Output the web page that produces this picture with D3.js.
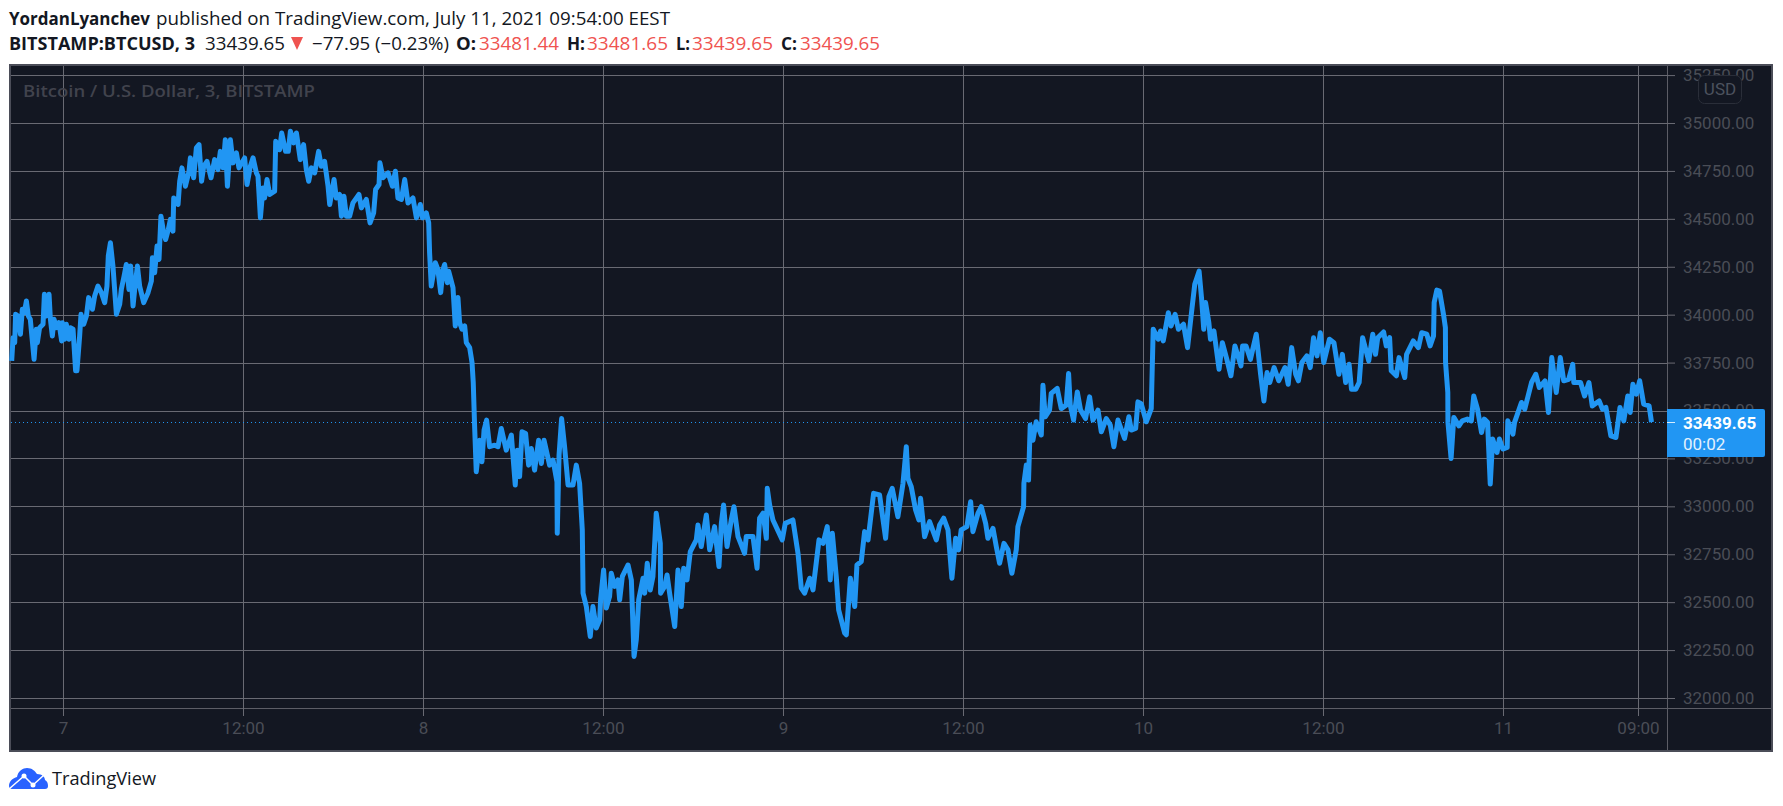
<!DOCTYPE html>
<html>
<head>
<meta charset="utf-8">
<script src="https://d3js.org/d3.v7.min.js"></script>
<style>
  body { margin: 0; background: #fff; }
  svg { display: block; }
  text { font-family: "Open Sans", "Noto Sans", sans-serif; }
  .axis text { font-family: Roboto, sans-serif; font-size: 17px; fill: #4a4d56; }
  .axis path { display: none; }
  .axis line { stroke: #696a73; }
</style>
</head>
<body>
<svg id="chart" width="1783" height="806"></svg>
<script>
// hours since Jul 7 00:00
var hours = [
  -3.42,-3.33,-3.22,-3.16,-3.0,-2.84,-2.71,-2.58,-2.44,-2.31,-2.18,-1.93,-1.78,-1.71,-1.56,-1.33,-1.24,-1.11,-0.93,-0.84,-0.71,-0.6,-0.44,-0.27,-0.09,-0.04,
  0.11,0.22,0.4,0.49,0.67,0.84,0.93,1.11,1.2,1.38,1.56,1.71,1.96,2.11,2.33,2.56,2.78,2.93,3.02,3.16,3.33,3.56,3.78,3.89,4.07,4.22,4.4,4.51,4.67,4.78,4.96,5.11,5.38,5.67,5.89,5.96,
  6.11,6.27,6.4,6.53,6.71,6.84,7.02,7.16,7.33,7.38,7.67,7.78,7.93,8.16,8.4,8.49,8.71,8.89,9.07,9.24,9.38,9.6,9.87,10.11,10.33,10.49,10.67,10.82,10.96,11.16,11.33,11.56,11.73,
  12.11,12.27,12.49,12.67,12.89,13.0,13.16,13.33,13.44,13.6,13.78,14.11,14.18,14.44,14.58,14.84,15.02,15.16,15.38,15.56,15.82,16.04,16.22,16.38,16.56,16.78,17.04,17.22,17.44,17.67,17.78,
  18.07,18.22,18.44,18.56,18.73,18.89,19.11,19.33,19.73,19.89,20.22,20.47,20.71,20.84,21.07,21.13,21.33,21.67,21.96,22.16,22.33,22.56,22.78,23.0,23.33,23.56,23.82,23.96,
  24.22,24.38,24.44,24.55,24.82,24.99,25.18,25.33,25.44,25.62,25.71,26.0,26.15,26.33,26.44,26.6,26.78,26.89,27.11,27.27,27.35,27.44,27.55,27.78,27.93,
  28.07,28.24,28.44,28.78,29.0,29.22,29.55,29.89,30.15,30.29,30.44,30.6,30.84,31.04,31.22,31.44,31.71,31.89,32.07,32.44,32.67,32.93,32.95,33.07,33.24,33.44,33.67,34.0,34.22,34.44,34.62,34.67,34.89,35.15,35.33,35.55,35.78,35.84,
  36.04,36.22,36.44,36.55,36.78,37.0,37.11,37.29,37.67,37.89,38.07,38.22,38.38,38.67,38.78,38.95,39.15,39.33,39.55,39.82,39.84,40.11,40.27,40.44,40.78,41.0,41.22,41.38,41.6,41.82,
  42.22,42.33,42.55,42.89,43.11,43.44,43.73,43.89,44.04,44.27,44.55,44.73,45.0,45.44,45.55,46.0,46.27,46.44,46.67,46.89,46.95,47.11,47.33,47.95,
  48.15,48.66,49.0,49.22,49.44,49.78,50.0,50.4,50.67,50.95,51.15,51.29,51.55,51.71,52.11,52.22,52.49,52.78,52.93,53.22,53.44,53.67,54.04,54.44,
  54.84,55.06,55.28,55.66,56.0,56.22,56.33,56.55,56.84,57.06,57.17,57.44,57.77,58.22,58.44,58.71,59.0,59.26,59.51,59.71,59.88,
  60.26,60.51,60.66,61.0,61.22,61.51,61.66,62.0,62.22,62.44,62.73,63.0,63.26,63.55,63.66,64.04,64.06,64.22,64.37,64.48,64.66,64.88,65.22,65.33,65.48,65.77,65.88,
  66.28,66.55,66.88,67.04,67.15,67.37,67.62,67.84,68.17,68.44,68.66,69.0,69.22,69.55,69.82,70.06,70.33,70.77,71.06,71.22,71.51,71.66,71.88,
  72.22,72.55,72.68,73.01,73.17,73.35,73.69,73.87,74.14,74.36,74.7,74.97,75.27,75.45,75.74,75.9,76.05,76.17,76.39,76.5,76.73,77.07,77.29,77.59,77.86,
  78.13,78.53,78.64,78.87,79.16,79.55,79.84,80.06,80.27,80.45,80.74,81.05,81.46,81.68,81.91,82.18,82.36,82.59,82.92,83.15,83.37,83.6,83.82,
  84.05,84.43,84.73,85.06,85.29,85.51,85.74,85.9,86.19,86.41,86.64,87.05,87.32,87.5,87.65,88.04,88.22,88.44,88.55,88.89,89.07,89.45,89.57,
  90.02,90.36,90.58,90.92,91.14,91.37,91.41,91.59,91.77,92.05,92.16,92.17,92.32,92.33,92.54,92.72,93.06,93.28,93.62,93.89,94.05,94.3,94.57,94.75,94.97,95.15,95.31,95.6,95.76,95.99,
  96.28,96.32,96.66,96.77,97.23,97.45,97.9,98.19,98.42,98.8,99.03,99.25,99.55,99.82,100.05,100.38,100.65,100.72,101.17,101.44,101.73,101.95,
  102.41,102.63,102.86,103.19,103.53,103.8,104.05,104.32,104.48,104.66,104.89,105.11,105.38,105.74,105.9
];
var prices = [
  33759,33880,33854,34002,33993,33898,34028,34010,34071,33993,33976,33767,33924,33854,33932,33950,34106,33993,34106,33976,33889,33976,33932,33958,33863,33958,
  33872,33950,33872,33932,33924,33707,33707,33889,34002,33950,33993,34089,34028,34097,34149,34115,34063,34149,34306,34375,34254,34002,34054,34132,34201,34262,34132,34254,34045,34132,34254,34149,34063,34115,34175,34297,
  34219,34358,34288,34514,34427,34392,34444,34497,34436,34609,34575,34696,34766,34670,34748,34818,34714,34870,34887,34696,34774,34800,34714,34809,34757,34852,34766,34913,34670,34913,34792,34844,34766,
  34818,34679,34774,34818,34740,34722,34505,34661,34609,34705,34627,34644,34905,34861,34948,34852,34852,34957,34896,34948,34809,34887,34757,34696,34766,34740,34852,34774,34800,34670,34575,
  34705,34609,34627,34514,34618,34514,34514,34583,34627,34557,34601,34479,34531,34653,34679,34792,34714,34740,34670,34748,34609,34601,34705,34583,34609,34505,34575,34505,
  34531,34479,34323,34149,34271,34236,34115,34236,34262,34167,34227,34141,33941,34089,33958,33924,33941,33854,33828,33750,33646,33420,33181,33345,33233,
  33398,33450,33311,33319,33311,33406,33293,33372,33111,33293,33155,33389,33380,33215,33302,33189,33345,33224,33345,33215,33241,33128,32859,33267,33458,33311,33111,33111,33215,33120,32877,32547,32477,32321,32477,32365,32408,32512,
  32668,32469,32530,32651,32582,32616,32512,32634,32694,32616,32217,32304,32512,32625,32547,32703,32564,32634,32964,32807,32547,32582,32642,32547,32373,32668,32477,32677,32616,32764,
  32825,32903,32790,32955,32773,32894,32686,32911,33007,32790,32929,32998,32842,32755,32842,32842,32677,32938,32964,32833,33094,33007,32929,32825,
  32911,32929,32755,32573,32547,32625,32564,32825,32807,32894,32616,32859,32634,32460,32339,32330,32625,32477,32694,32712,32868,32825,33068,33059,
  32833,33050,33094,32946,33120,33311,33146,33102,32981,32929,33042,32842,32920,32825,32903,32938,32877,32625,32833,32773,32877,
  32894,33024,32868,32964,32998,32911,32833,32885,32790,32703,32807,32773,32651,32773,32894,32998,33120,33215,33137,33424,33345,33441,33372,33632,33467,33502,33589,
  33615,33510,33528,33693,33528,33450,33597,33502,33458,33571,33450,33502,33389,33458,33424,33311,33450,33354,33467,33398,33406,33545,33536,
  33441,33510,33924,33872,33915,33863,34010,33941,34002,33924,33950,33828,34036,34158,34227,34089,33924,34063,33958,33872,33915,33715,33854,33767,33681,
  33837,33733,33837,33837,33767,33898,33689,33550,33698,33646,33724,33655,33724,33637,33828,33689,33655,33750,33785,33724,33880,33785,33906,
  33750,33872,33854,33689,33793,33646,33741,33611,33611,33646,33880,33759,33898,33793,33880,33910,33837,33880,33707,33681,33776,33672,33793,
  33863,33828,33906,33898,33837,33889,34063,34128,34123,33993,33932,33750,33594,33438,33250,33464,33420,33446,33455,33446,33576,33507,33385,33455,33438,33116,33351,33281,33351,33299,
  33307,33446,33377,33438,33542,33507,33646,33689,33620,33655,33490,33776,33594,33776,33655,33663,33741,33646,33646,33576,33646,33524,
  33550,33507,33516,33368,33359,33516,33446,33576,33490,33637,33585,33655,33533,33524,33439.65
];

var priceTicks = [32000,32250,32500,32750,33000,33250,33500,33750,34000,34250,34500,34750,35000,35250];
var timeTicks = [0,12,24,36,48,60,72,84,96,105];
var timeLabels = ['7','12:00','8','12:00','9','12:00','10','12:00','11','09:00'];
var lastPrice = 33439.65;

// header pieces: text, x, width, weight, colour
var line1 = [
  ['YordanLyanchev', 9, 141, 700, '#131722'],
  ['published on TradingView.com, July 11, 2021 09:54:00 EEST', 156, 514, 400, '#131722']
];
var line2 = [
  ['BITSTAMP:BTCUSD, 3', 9, 186, 700, '#131722'],
  ['33439.65', 205, 80, 400, '#131722'],
  ['\u221277.95 (\u22120.23%)', 312, 137, 400, '#131722'],
  ['O:', 456, 20, 700, '#131722'],
  ['33481.44', 479, 80, 400, '#ef5350'],
  ['H:', 567, 18, 700, '#131722'],
  ['33481.65', 587, 81, 400, '#ef5350'],
  ['L:', 676, 14, 700, '#131722'],
  ['33439.65', 692, 81, 400, '#ef5350'],
  ['C:', 781, 16, 700, '#131722'],
  ['33439.65', 800, 80, 400, '#ef5350']
];

var svg = d3.select('#chart');

var x = d3.scaleLinear().domain([0, 105]).range([63, 1638]);
var y = d3.scaleLinear().domain([32000, 35000]).range([698, 123]);

// frame
svg.append('rect')
  .attr('x', 10).attr('y', 65).attr('width', 1762).attr('height', 686)
  .attr('fill', '#131722').attr('stroke', '#4b4d58').attr('stroke-width', 2);

// grid
svg.append('g').selectAll('line').data(priceTicks).join('line')
  .attr('x1', 11).attr('x2', 1667)
  .attr('y1', d => Math.round(y(d)) + 0.5).attr('y2', d => Math.round(y(d)) + 0.5)
  .attr('stroke', '#696a73');
svg.append('g').selectAll('line').data(timeTicks).join('line')
  .attr('x1', d => x(d) + 0.5).attr('x2', d => x(d) + 0.5)
  .attr('y1', 66).attr('y2', 708)
  .attr('stroke', '#696a73');
svg.append('line')
  .attr('x1', 11).attr('x2', 1771).attr('y1', 708.5).attr('y2', 708.5)
  .attr('stroke', '#5c5d66');
svg.append('line')
  .attr('x1', 1667.5).attr('x2', 1667.5).attr('y1', 66).attr('y2', 750)
  .attr('stroke', '#5c5d66');

// axes
var yAxis = d3.axisRight(y).tickValues(priceTicks).tickFormat(d3.format('.2f')).tickSize(8).tickPadding(8);
svg.append('g').attr('class', 'axis').attr('transform', 'translate(1667,0)').call(yAxis);
var xAxis = d3.axisBottom(x).tickValues(timeTicks).tickFormat((d, i) => timeLabels[i]).tickSize(8).tickPadding(6);
svg.append('g').attr('class', 'axis').attr('transform', 'translate(0,708)').call(xAxis);

// title watermark
svg.append('text').attr('x', 23).attr('y', 97)
  .attr('font-size', 17).attr('font-weight', 600).attr('fill', '#41434d')
  .attr('textLength', 292).attr('lengthAdjust', 'spacingAndGlyphs')
  .text('Bitcoin / U.S. Dollar, 3, BITSTAMP');

// last price line
svg.append('line')
  .attr('x1', 11).attr('x2', 1667)
  .attr('y1', Math.round(y(lastPrice)) + 0.5).attr('y2', Math.round(y(lastPrice)) + 0.5)
  .attr('stroke', '#2196f3').attr('stroke-dasharray', '1 3');

// price line
var line = d3.line().x((d, i) => x(hours[i])).y(d => y(d));
svg.append('path')
  .attr('d', line(prices))
  .attr('fill', 'none').attr('stroke', '#2196f3').attr('stroke-width', 5)
  .attr('stroke-linejoin', 'round').attr('stroke-linecap', 'butt');

// last price tag
svg.append('path')
  .attr('d', 'M1667,409H1763a2,2 0 0 1 2,2V455a2,2 0 0 1 -2,2H1667Z')
  .attr('fill', '#2196f3');
svg.append('line')
  .attr('x1', 1667).attr('x2', 1675)
  .attr('y1', Math.round(y(lastPrice)) + 0.5).attr('y2', Math.round(y(lastPrice)) + 0.5)
  .attr('stroke', '#d6ecfd');
svg.append('text').attr('x', 1683).attr('y', 429)
  .attr('fill', '#fff').attr('font-size', 17).attr('font-weight', 700)
  .style('font-family', 'Roboto, sans-serif')
  .text(d3.format('.2f')(lastPrice));
svg.append('text').attr('x', 1683).attr('y', 450)
  .attr('fill', '#e3f1fd').attr('font-size', 17)
  .style('font-family', 'Roboto, sans-serif')
  .text('00:02');

// USD button
svg.append('rect')
  .attr('x', 1698.5).attr('y', 75.5).attr('width', 43).attr('height', 28).attr('rx', 6)
  .attr('fill', '#131722').attr('stroke', '#2a2e39');
svg.append('text').attr('x', 1720).attr('y', 95)
  .attr('text-anchor', 'middle').attr('font-size', 17).attr('fill', '#4c525e')
  .style('font-family', 'Roboto, sans-serif')
  .text('USD');

// header
function headerLine(items, baseline) {
  svg.append('g').selectAll('text').data(items).join('text')
    .attr('x', d => d[1]).attr('y', baseline)
    .attr('textLength', d => d[2]).attr('lengthAdjust', 'spacingAndGlyphs')
    .attr('font-size', 18)
    .attr('font-weight', d => d[3]).attr('fill', d => d[4])
    .text(d => d[0]);
}
headerLine(line1, 25);
headerLine(line2, 50);
svg.append('path').attr('d', 'M291,37H303L297,50Z').attr('fill', '#ef5350');

// TradingView logo
svg.append('path')
  .attr('d', 'M9,786C9,781 13,778 17,777C18,771 23,768 27,768C32,768 35,771 37,774C42,774 45,777 45,780C47,781 48,783 48,786C48,788 47,789 45,789H12C10,789 9,788 9,786Z')
  .attr('fill', '#2962ff');
svg.append('path')
  .attr('d', 'M9,789L24,776L33,785L44,775')
  .attr('fill', 'none').attr('stroke', '#fff').attr('stroke-width', 1.5);
svg.append('circle').attr('cx', 24).attr('cy', 776).attr('r', 2.5).attr('fill', '#fff');
svg.append('circle').attr('cx', 33).attr('cy', 785).attr('r', 2.5).attr('fill', '#fff');
svg.append('text').attr('x', 52).attr('y', 785)
  .attr('font-size', 19).attr('fill', '#131722')
  .attr('textLength', 104).attr('lengthAdjust', 'spacingAndGlyphs')
  .text('TradingView');
</script>
</body>
</html>
